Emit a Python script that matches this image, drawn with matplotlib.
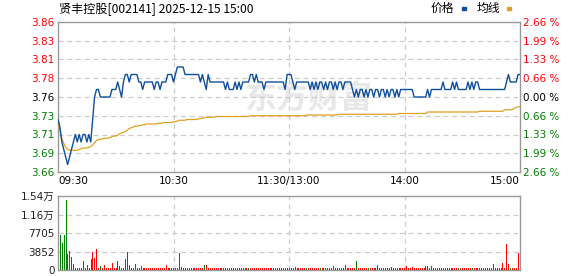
import matplotlib
matplotlib.use("Agg")
import matplotlib.pyplot as plt
from matplotlib.patches import Rectangle
import numpy as np

plt.rcParams['font.family'] = ['DejaVu Sans', 'Noto Sans CJK SC']

# ---------------- data ----------------
title = "贤丰控股[002141] 2025-12-15 15:00"
prev_close = 3.76
price_ticks = [3.66, 3.685, 3.71, 3.735, 3.76, 3.785, 3.81, 3.835, 3.86]
price_labels = ["3.66", "3.69", "3.71", "3.73", "3.76", "3.78", "3.81", "3.83", "3.86"]
pct_labels = ["2.66 %", "1.99 %", "1.33 %", "0.66 %", "0.00 %", "0.66 %", "1.33 %", "1.99 %", "2.66 %"]
vol_ticks = [0, 3852.5, 7705, 11557.5, 15410]
vol_labels = ["0", "3852", "7705", "1.16万", "1.54万"]
time_ticks = [0, 60, 120, 180, 240]
time_labels = ["09:30", "10:30", "11:30/13:00", "14:00", "15:00"]

price = [
    3.73, 3.72, 3.70, 3.69, 3.68, 3.67, 3.68, 3.69, 3.70, 3.71,
    3.70, 3.71, 3.70, 3.71, 3.71, 3.70, 3.71, 3.70, 3.73, 3.76,
    3.77, 3.77, 3.76, 3.76, 3.76, 3.76, 3.76, 3.76, 3.77, 3.77,
    3.77, 3.78, 3.77, 3.76, 3.78, 3.79, 3.79, 3.78, 3.79, 3.79,
    3.79, 3.79, 3.78, 3.78, 3.77, 3.78, 3.78, 3.78, 3.78, 3.78,
    3.77, 3.78, 3.78, 3.77, 3.78, 3.78, 3.78, 3.79, 3.79, 3.79,
    3.78, 3.79, 3.80, 3.80, 3.80, 3.80, 3.79, 3.79, 3.79, 3.79,
    3.79, 3.79, 3.79, 3.79, 3.78, 3.79, 3.78, 3.77, 3.79, 3.78,
    3.78, 3.78, 3.78, 3.78, 3.78, 3.78, 3.78, 3.77, 3.78, 3.77,
    3.77, 3.77, 3.78, 3.77, 3.78, 3.77, 3.78, 3.78, 3.78, 3.78,
    3.79, 3.79, 3.78, 3.79, 3.78, 3.78, 3.78, 3.77, 3.78, 3.78,
    3.78, 3.78, 3.78, 3.78, 3.78, 3.78, 3.78, 3.78, 3.77, 3.79,
    3.79, 3.79, 3.78, 3.77, 3.78, 3.78, 3.78, 3.78, 3.78, 3.78,
    3.78, 3.77, 3.78, 3.77, 3.78, 3.77, 3.78, 3.78, 3.77, 3.78,
    3.77, 3.78, 3.78, 3.77, 3.78, 3.77, 3.78, 3.78, 3.77, 3.78,
    3.78, 3.78, 3.78, 3.77, 3.76, 3.77, 3.76, 3.77, 3.77, 3.76,
    3.77, 3.76, 3.77, 3.77, 3.76, 3.77, 3.77, 3.76, 3.77, 3.77,
    3.76, 3.77, 3.76, 3.77, 3.77, 3.76, 3.77, 3.76, 3.77, 3.77,
    3.77, 3.77, 3.77, 3.77, 3.77, 3.76, 3.76, 3.76, 3.76, 3.76,
    3.76, 3.76, 3.77, 3.76, 3.77, 3.77, 3.77, 3.77, 3.77, 3.77,
    3.78, 3.77, 3.77, 3.77, 3.77, 3.78, 3.77, 3.78, 3.77, 3.77,
    3.77, 3.77, 3.77, 3.78, 3.77, 3.78, 3.77, 3.78, 3.78, 3.77,
    3.77, 3.77, 3.77, 3.77, 3.77, 3.77, 3.77, 3.77, 3.77, 3.77,
    3.77, 3.77, 3.77, 3.78, 3.79, 3.78, 3.78, 3.78, 3.78, 3.79,
    3.79,
]

avg = [
    3.730, 3.715, 3.705, 3.698, 3.693, 3.690, 3.689, 3.689, 3.689, 3.689,
    3.689, 3.690, 3.691, 3.692, 3.692, 3.692, 3.693, 3.694, 3.696, 3.699,
    3.702, 3.703, 3.704, 3.704, 3.705, 3.705, 3.705, 3.706, 3.707, 3.708,
    3.708, 3.709, 3.711, 3.712, 3.713, 3.714, 3.716, 3.718, 3.719, 3.720,
    3.721, 3.721, 3.722, 3.722, 3.723, 3.723, 3.724, 3.724, 3.724, 3.724,
    3.724, 3.724, 3.725, 3.725, 3.725, 3.726, 3.726, 3.726, 3.726, 3.726,
    3.727, 3.727, 3.728, 3.729, 3.729, 3.729, 3.729, 3.730, 3.730, 3.730,
    3.730, 3.730, 3.730, 3.731, 3.731, 3.732, 3.732, 3.733, 3.733, 3.733,
    3.733, 3.733, 3.734, 3.734, 3.734, 3.734, 3.734, 3.734, 3.734, 3.734,
    3.734, 3.734, 3.734, 3.734, 3.734, 3.734, 3.734, 3.734, 3.734, 3.734,
    3.735, 3.735, 3.735, 3.735, 3.735, 3.735, 3.735, 3.735, 3.735, 3.735,
    3.735, 3.735, 3.735, 3.735, 3.735, 3.735, 3.735, 3.735, 3.735, 3.735,
    3.735, 3.735, 3.735, 3.735, 3.735, 3.735, 3.735, 3.735, 3.735, 3.736,
    3.736, 3.736, 3.736, 3.736, 3.736, 3.736, 3.736, 3.736, 3.736, 3.736,
    3.736, 3.736, 3.736, 3.736, 3.736, 3.736, 3.737, 3.737, 3.737, 3.737,
    3.737, 3.737, 3.737, 3.737, 3.737, 3.737, 3.737, 3.737, 3.737, 3.737,
    3.737, 3.737, 3.737, 3.737, 3.737, 3.737, 3.737, 3.737, 3.737, 3.737,
    3.737, 3.737, 3.737, 3.737, 3.737, 3.737, 3.737, 3.738, 3.738, 3.738,
    3.738, 3.738, 3.738, 3.738, 3.738, 3.738, 3.738, 3.738, 3.738, 3.738,
    3.738, 3.738, 3.740, 3.740, 3.740, 3.740, 3.740, 3.740, 3.740, 3.740,
    3.740, 3.740, 3.740, 3.740, 3.740, 3.740, 3.740, 3.740, 3.740, 3.740,
    3.740, 3.740, 3.740, 3.740, 3.740, 3.740, 3.740, 3.740, 3.740, 3.741,
    3.741, 3.741, 3.741, 3.741, 3.741, 3.741, 3.741, 3.741, 3.741, 3.741,
    3.741, 3.741, 3.743, 3.743, 3.743, 3.743, 3.743, 3.745, 3.746, 3.747,
    3.747,
]

volume = [
    7340, 5630, 7340, 14620, 3270, 3990, 2630, 1350, 380, 400,
    360, 360, 1780, 380, 1130, 360, 2200, 3700, 2420, 4340,
    490, 920, 360, 1130, 360, 360, 360, 1560, 360, 360,
    1780, 920, 360, 360, 2200, 3700, 1130, 360, 360, 1350,
    380, 380, 920, 360, 360, 360, 360, 360, 360, 360,
    360, 360, 360, 360, 360, 1130, 360, 360, 360, 360,
    360, 360, 3550, 700, 400, 450, 360, 360, 360, 360,
    360, 360, 360, 360, 360, 985, 1130, 360, 360, 360,
    360, 360, 450, 360, 360, 360, 360, 380, 360, 360,
    360, 360, 360, 360, 360, 360, 360, 360, 380, 360,
    360, 360, 360, 360, 360, 360, 360, 360, 360, 360,
    380, 360, 360, 360, 360, 360, 360, 360, 360, 360,
    360, 360, 560, 360, 360, 360, 360, 360, 380, 360,
    360, 360, 360, 360, 360, 380, 360, 360, 360, 360,
    360, 360, 770, 360, 360, 360, 360, 360, 980, 360,
    360, 360, 360, 360, 1840, 360, 360, 360, 360, 360,
    380, 360, 360, 360, 360, 980, 360, 360, 360, 360,
    360, 360, 560, 360, 360, 380, 360, 360, 360, 360,
    770, 360, 360, 560, 360, 360, 360, 360, 360, 360,
    770, 770, 500, 770, 360, 360, 360, 360, 360, 360,
    380, 360, 360, 360, 360, 360, 360, 380, 360, 360,
    360, 360, 360, 360, 380, 360, 360, 360, 500, 360,
    360, 360, 360, 360, 380, 1350, 360, 360, 360, 360,
    1560, 360, 5410, 1350, 500, 360, 360, 360, 3490, 360,
]
down_bars = [0, 1, 2, 3, 8, 9, 13, 21, 30, 36, 40, 41, 42, 64, 75, 87, 98, 110,
             122, 128, 135, 154, 160, 175, 193, 200, 207, 214, 224, 234]

# ---------------- style ----------------
RED = '#ff0000'
GREEN = '#008000'
BLUE = '#0f4f9f'
ORANGE = '#e0a020'
FRAME = '#999999'
GRID = '#cccccc'
W, H = 578, 276

fig = plt.figure(figsize=(W / 100, H / 100), dpi=100)
fig.patch.set_facecolor('white')

def rect(l, t, r, b):
    return [l / W, 1 - b / H, (r - l) / W, (b - t) / H]

ax = fig.add_axes(rect(58, 22, 520, 172))
axv = fig.add_axes(rect(58, 196, 520, 270))

for a in (ax, axv):
    for s in a.spines.values():
        s.set_color(FRAME)
        s.set_linewidth(1.0)
    a.set_xlim(0, 240)
    a.tick_params(length=0)
    for x in time_ticks[1:-1]:
        a.axvline(x, color=GRID, lw=0.9, ls=(0, (4, 3)), zorder=1)

# main price panel
t = np.arange(len(price))
ax.set_ylim(price_ticks[0], price_ticks[-1])
for y in price_ticks[1:-1]:
    ax.axhline(y, color=GRID, lw=0.9, ls=(0, (4, 3)), zorder=1)

ax.text(130, 3.757, '东方财富', fontsize=23, color='#e8e8e8', ha='center', va='center',
        family=['Noto Sans CJK SC'], fontweight='bold', zorder=0)

ax.plot(t, avg, color=ORANGE, lw=0.9, zorder=3)
ax.plot(t, price, color=BLUE, lw=1.0, zorder=4)

ax.set_yticks(price_ticks)
ax.set_yticklabels(price_labels, fontsize=7.5)
for lab, v in zip(ax.get_yticklabels(), price_ticks):
    if v > prev_close + 1e-9:
        lab.set_color(RED)
    elif v < prev_close - 1e-9:
        lab.set_color(GREEN)
    else:
        lab.set_color('black')
ax.tick_params(axis='y', pad=2.5)

ax.set_xticks(time_ticks)
ax.set_xticklabels(time_labels, fontsize=7.5)
ax.tick_params(axis='x', pad=3)
xl = ax.get_xticklabels()
xl[0].set_horizontalalignment('left')
xl[-1].set_horizontalalignment('right')

ax2 = ax.twinx()
ax2.set_ylim(price_ticks[0], price_ticks[-1])
ax2.set_yticks(price_ticks)
ax2.set_yticklabels(pct_labels, fontsize=7.5)
for lab, v in zip(ax2.get_yticklabels(), price_ticks):
    if v > prev_close + 1e-9:
        lab.set_color(RED)
    elif v < prev_close - 1e-9:
        lab.set_color(GREEN)
    else:
        lab.set_color('black')
ax2.tick_params(length=0, pad=2.5)
for s in ax2.spines.values():
    s.set_visible(False)

# volume panel
axv.set_ylim(0, vol_ticks[-1])
for y in vol_ticks[1:-1]:
    axv.axhline(y, color=GRID, lw=0.9, ls=(0, (4, 3)), zorder=1)
vx = np.arange(len(volume)) + 0.9
cols = [GREEN if i in down_bars else RED for i in range(len(volume))]
axv.vlines(vx, 0, volume, colors=cols, lw=0.72, zorder=3, antialiased=False)
axv.set_yticks(vol_ticks)
axv.set_yticklabels(vol_labels, fontsize=7.5, color='#222222')
axv.tick_params(axis='y', pad=2.5)
axv.set_xticks([])

# title and legend
fig.text(59 / W, 1 - 8.5 / H, title, fontsize=8.7, ha='left', va='center',
         family=['Noto Sans CJK SC', 'DejaVu Sans'], color='black')
fig.text(431 / W, 1 - 8.5 / H, '价格', fontsize=8.5, ha='left', va='center',
         family=['Noto Sans CJK SC'], color='black')
fig.text(477 / W, 1 - 8.5 / H, '均线', fontsize=8.5, ha='left', va='center',
         family=['Noto Sans CJK SC'], color='black')
fig.patches.append(Rectangle((462 / W, 1 - 10 / H), 4 / W, 3 / H, transform=fig.transFigure,
                             color=BLUE, figure=fig))
fig.patches.append(Rectangle((507 / W, 1 - 10 / H), 4 / W, 3 / H, transform=fig.transFigure,
                             color=ORANGE, figure=fig))

fig.savefig('out.png', dpi=100)
